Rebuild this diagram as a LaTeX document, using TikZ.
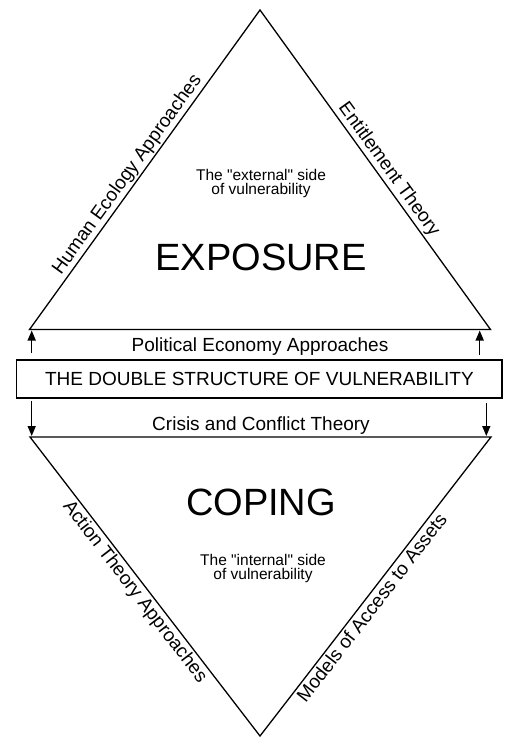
\documentclass[tikz,border=0pt]{standalone}
\usepackage{fontspec}
\setmainfont{Liberation Sans}[Ligatures=TeXOff]
\usetikzlibrary{arrows.meta}
\begin{document}
\begin{tikzpicture}[x=1pt,y=-1pt,
  edge/.style={line width=1.3pt, line join=miter},
  sidelabel/.style={font=\fontsize{19}{22}\selectfont, inner sep=0pt, sloped},
  arr/.style={line width=1.5pt, -{Triangle[length=10pt,width=8pt]}},
  midlabel/.style={font=\fontsize{19}{22}\selectfont, inner sep=0pt, anchor=base},
  bigword/.style={font=\fontsize{38}{44}\selectfont, inner sep=0pt, anchor=base},
  sidenote/.style={font=\fontsize{15.5}{14}\selectfont, align=center, inner sep=0pt},
  mainbox/.style={draw, line width=1.3pt, minimum width=485.3pt, minimum height=38pt, inner sep=0pt, font=\fontsize{19}{22}\selectfont}
]
\useasboundingbox (0,0) rectangle (509,738);
% triangle corners
\coordinate (ta) at (260,10);
\coordinate (tl) at (29.5,329.5);
\coordinate (tr) at (490.5,329.5);
\coordinate (bl) at (30,437);
\coordinate (br) at (491,437);
\coordinate (ba) at (260,736);

\draw[edge] (tl) -- (ta) -- (tr) -- cycle;
\draw[edge] (bl) -- (br) -- (ba) -- cycle;

% side labels
\path (tl) -- (ta) node[sidelabel, pos=0.464, above=2pt] (hea) {Human Ecology Approaches};
\path (ta) -- (tr) node[sidelabel, pos=0.52, above=2pt] (ent) {Entitlement Theory};
\path (bl) -- (ba) node[sidelabel, pos=0.495, below=2.5pt] (act) {Action Theory Approaches};
\path (ba) -- (br) node[sidelabel, pos=0.45, below=2.5pt] (mod) {Models of Access to Assets};

% central box
\node[mainbox] (box) at (259.4,379) {THE DOUBLE STRUCTURE OF VULNERABILITY};
\node[midlabel] (pol) at (260,351.7) {Political Economy Approaches};
\node[midlabel] (cri) at (261,430.7) {Crisis and Conflict Theory};

% arrows
\coordinate (lu0) at (31.7,353);
\coordinate (lu1) at (31.7,330.5);
\coordinate (ru0) at (479.7,355);
\coordinate (ru1) at (479.7,330.5);
\coordinate (ld0) at (31.7,401);
\coordinate (ld1) at (31.7,436);
\coordinate (rd0) at (486.3,403);
\coordinate (rd1) at (486.3,436);
\draw[arr] (lu0) -- (lu1);
\draw[arr] (ru0) -- (ru1);
\draw[arr] (ld0) -- (ld1);
\draw[arr] (rd0) -- (rd1);

% inner texts
\node[sidenote] (ext) at (261,183) {The "external" side\\of vulnerability};
\node[bigword] (exp) at (261,270) {EXPOSURE};
\node[bigword] (cop) at (261,515) {COPING};
\node[sidenote] (int) at (263,568) {The "internal" side\\of vulnerability};
\end{tikzpicture}
\end{document}
